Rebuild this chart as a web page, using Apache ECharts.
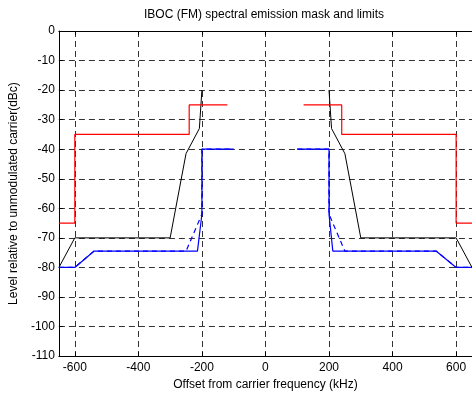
<!DOCTYPE html>
<html>
<head>
<meta charset="utf-8">
<script src="https://cdn.jsdelivr.net/npm/echarts@6/dist/echarts.min.js"></script>
<style>
html,body{margin:0;padding:0;background:#fff;}
#chart{width:472px;height:396px;}
</style>
</head>
<body>
<div id="chart"></div>
<script>
// Tick values
const xTicks = [-600, -400, -200, 0, 200, 400, 600];
const yMin = -110, yMax = 0, yStep = 10;

// Red: emission mask
const redLeft  = [[-650, -65], [-600, -65], [-600, -35], [-240, -35], [-240, -25], [-120, -25]];
const redRight = [[120, -25], [240, -25], [240, -35], [600, -35], [600, -65], [650, -65]];

// Black: limit
const blackLeft  = [[-650, -80], [-600, -70], [-300, -70], [-250, -41.5], [-208, -33], [-200, -20]];
const blackRight = [[200, -20], [208, -33], [250, -41.5], [300, -70], [600, -70], [650, -80]];

// Blue solid
const blueLeft  = [[-650, -80], [-600, -80], [-540, -74.5], [-214, -74.5], [-200, -62], [-200, -40], [-100, -40]];
const blueRight = [[100, -40], [200, -40], [200, -62], [212, -74.5], [538, -74.5], [600, -80], [650, -80]];

// Blue dashed
const blueDashLeft  = [[-650, -80], [-600, -80], [-540, -74.5], [-250, -74.5], [-200, -62], [-200, -40], [-100, -40]];
const blueDashRight = [[100, -40], [200, -40], [200, -62], [250, -74.5], [538, -74.5], [600, -80], [650, -80]];

const FONT = '"Liberation Sans", Arial, sans-serif';
const chart = echarts.init(document.getElementById('chart'), null, {renderer: 'canvas'});

function line(data, color, width, type) {
  return {
    type: 'line', data: data, showSymbol: false, symbol: 'none',
    lineStyle: {color: color, width: width, type: type || 'solid'},
    clip: true, silent: true
  };
}

const gridStyle = {show: true, lineStyle: {color: '#333', width: 1, type: [6, 4]}};

chart.setOption({
  animation: false,
  backgroundColor: '#fff',
  textStyle: {fontFamily: FONT},
  graphic: [{
    type: 'text', x: 264, y: 15,
    style: {text: 'IBOC (FM) spectral emission mask and limits', font: '12px ' + FONT,
            fill: '#000', textAlign: 'center', textVerticalAlign: 'middle'}
  }],
  grid: {left: 54.5, top: 31, width: 420.5, height: 331, containLabel: false},
  xAxis: [{
    type: 'value', min: -650, max: 650, position: 'bottom',
    axisLine: {show: true, onZero: false, lineStyle: {color: '#000', width: 1}},
    axisTick: {show: true, inside: true, length: 4, customValues: xTicks, lineStyle: {color: '#000'}},
    axisLabel: {show: true, customValues: xTicks, color: '#000', fontSize: 12, fontFamily: FONT, margin: 6},
    splitLine: gridStyle,
    name: 'Offset from carrier frequency (kHz)', nameLocation: 'middle', nameGap: 22,
    nameTextStyle: {color: '#000', fontSize: 12, fontFamily: FONT}
  }, {
    type: 'value', min: -650, max: 650, position: 'top',
    axisLine: {show: true, onZero: false, lineStyle: {color: '#000', width: 1}},
    axisTick: {show: true, inside: true, length: 4, customValues: xTicks, lineStyle: {color: '#000'}},
    axisLabel: {show: false},
    splitLine: {show: false}
  }],
  yAxis: [{
    type: 'value', min: yMin, max: yMax, interval: yStep,
    axisLine: {show: true, onZero: false, lineStyle: {color: '#000', width: 1}},
    axisTick: {show: true, inside: true, length: 4, lineStyle: {color: '#000'}},
    axisLabel: {color: '#000', fontSize: 12, fontFamily: FONT, margin: 4},
    splitLine: gridStyle,
    name: 'Level relative to unmodulated carrier(dBc)', nameLocation: 'middle', nameGap: 36,
    nameRotate: 90,
    nameTextStyle: {color: '#000', fontSize: 12, fontFamily: FONT}
  }],
  series: [
    line(blueDashLeft, '#0000ff', 1.2, [5, 4]),
    line(blueDashRight, '#0000ff', 1.2, [5, 4]),
    line(blueLeft, '#0000ff', 1.2),
    line(blueRight, '#0000ff', 1.2),
    line(blackLeft, '#000000', 1),
    line(blackRight, '#000000', 1),
    line(redLeft, '#ff0000', 1.2),
    line(redRight, '#ff0000', 1.2)
  ]
});
</script>
</body>
</html>
